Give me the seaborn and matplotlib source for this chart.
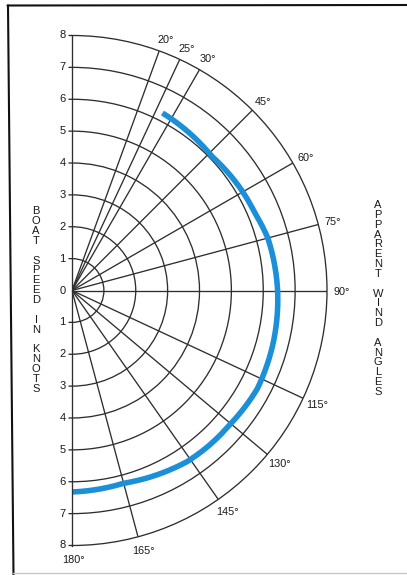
import numpy as np
import matplotlib
matplotlib.use("Agg")
import matplotlib.pyplot as plt
from matplotlib.lines import Line2D
import seaborn as sns

# Apparent wind angle (degrees) and boat speed (knots) along the performance curve
wind_angle = [27, 46, 59, 67, 75, 90, 104, 118, 130, 139, 146, 165, 180]
boat_speed = [6.25, 6.08, 6.18, 6.23, 6.36, 6.45, 6.52, 6.58, 6.50, 6.49, 6.47, 6.26, 6.32]

# Grid definition
angle_ticks = [20, 25, 30, 45, 60, 75, 90, 115, 130, 145, 165, 180]
speed_ticks = [0, 1, 2, 3, 4, 5, 6, 7, 8]

left_title = "BOAT SPEED IN KNOTS"
right_title = "APPARENT WIND ANGLES"

sns.set_style("white")
plt.rcParams["font.family"] = ["Liberation Sans", "DejaVu Sans"]

W, H = 407, 575
fig = plt.figure(figsize=(W / 100, H / 100), dpi=100)
fig.patch.set_facecolor("white")

# half-disk polar axes: centre and radius in pixels.  The axes box is made
# square (2R) and the half-disk is centred inside it, so shift left by R/2.
cx, cy, R = 72, 290.5, 255
ax = fig.add_axes([(cx - R / 2) / W, (H - cy - R) / H, 2 * R / W, 2 * R / H],
                  projection="polar")
ax.set_theta_zero_location("N")
ax.set_theta_direction(-1)
ax.set_thetamin(0)
ax.set_thetamax(180)

grid_col = "#2e2e2e"
txt_col = "#1a1a1a"
ax.set_thetagrids(angle_ticks[:-1], labels=[""] * (len(angle_ticks) - 1))
ax.set_rgrids(speed_ticks[1:-1], labels=[""] * (len(speed_ticks) - 2))
ax.set_ylim(0, speed_ticks[-1])
ax.grid(True, color=grid_col, lw=0.95)
ax.tick_params(length=0, pad=0)
for sp in ax.spines.values():
    sp.set_color(grid_col)
    sp.set_linewidth(0.95)

# performance curve; segments follow the polar grid (spiral arcs between readings)
sns.lineplot(x=np.radians(wind_angle), y=boat_speed, ax=ax, sort=False,
             color="#1b8fd8", lw=4.0, solid_capstyle="butt", estimator=None)
for ln in ax.lines:
    ln.get_path()._interpolation_steps = 60
ax.set_xlabel("")
ax.set_ylabel("")
ax.set_ylim(0, speed_ticks[-1])

# speed labels and short ticks on both halves of the vertical axis
for r in speed_ticks:
    for th in ((0.0,) if r == 0 else (0.0, np.pi)):
        ax.annotate(str(r), xy=(th, r), xytext=(-6.8, 0), textcoords="offset points",
                    ha="center", va="center", fontsize=8, color=txt_col,
                    annotation_clip=False)
        if r > 0:
            ax.annotate("", xy=(th, r), xytext=(-2.2, 0), textcoords="offset points",
                        annotation_clip=False,
                        arrowprops=dict(arrowstyle="-", lw=0.95, color=grid_col,
                                        shrinkA=0, shrinkB=0))

# angle labels just outside the rim
for a in angle_ticks:
    ax.annotate(f"{a}°", xy=(np.radians(a), speed_ticks[-1] + 0.42),
                xytext=(1.2, -1.0), textcoords="offset points",
                ha="center", va="center", fontsize=7.8, color=txt_col,
                annotation_clip=False)

# stacked side titles
fig.text(36 / W, 1 - 300 / H, "\n".join(left_title), ha="center", va="center",
         multialignment="center", fontsize=8, linespacing=0.98, color=txt_col)
fig.text(378 / W, 1 - 298.5 / H, "\n".join(right_title), ha="center", va="center",
         multialignment="center", fontsize=8, linespacing=0.98, color=txt_col)

# page frame
def px_line(x0, y0, x1, y1, **kw):
    fig.add_artist(Line2D([x0 / W, x1 / W], [1 - y0 / H, 1 - y1 / H],
                          transform=fig.transFigure, **kw))

px_line(7.5, 5.5, 407, 5.0, color="#111111", lw=1.5)
px_line(8.0, 5.5, 13.5, 575, color="#111111", lw=1.5)
px_line(13.5, 573, 407, 573, color="#c8c8c8", lw=1.0)

fig.savefig("out.png", dpi=100, facecolor="white")
